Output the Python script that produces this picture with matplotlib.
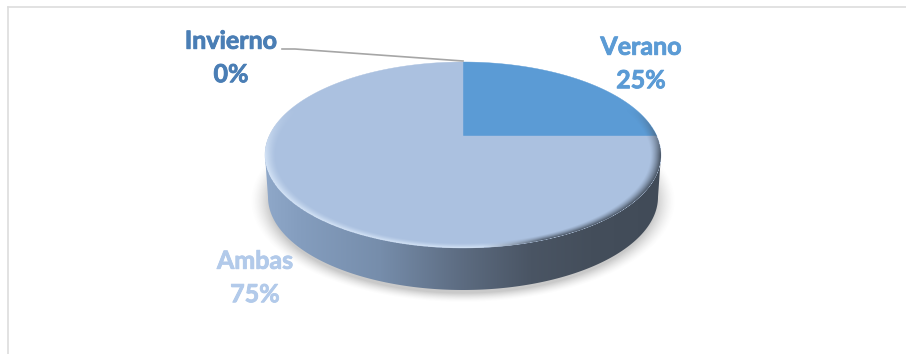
import matplotlib
matplotlib.use('Agg')
import matplotlib.pyplot as plt
import matplotlib.patheffects as pe
import numpy as np
from matplotlib.colors import to_rgb
from matplotlib.patches import Polygon, Ellipse

plt.rcParams['font.family'] = ['Lato', 'DejaVu Sans']

labels = ['Verano', 'Ambas', 'Invierno']
values = [25, 75, 0]
slice_colors = ['#5B9BD5', '#ABC1E0', '#4A7EB5']
label_colors = ['#5B9BD5', '#B2CAEA', '#4A7EB5']
label_pos = [(641, 64), (255, 278), (231, 58)]

# pie geometry in pixels
cx, cy = 463, 155
a, b = 198, 93
apex_y = 136
depth = 42
k = (apex_y - cy) / b


def disc_to_px(u, v):
    # tilted disc, the centre of the disc lands above the centre of the ellipse
    x = cx + a * u * np.sqrt(1 - k ** 2) / (1 + k * v)
    y = cy + b * (v + k) / (1 + k * v)
    return x, y


def wedge_points(start, end):
    t = np.radians(np.linspace(start, end, 200))
    x, y = disc_to_px(np.sin(t), -np.cos(t))
    ax_, ay_ = disc_to_px(0.0, 0.0)
    return np.column_stack([np.r_[ax_, x], np.r_[ay_, y]])


fig = plt.figure(figsize=(9.06, 3.54), dpi=100)
ax = fig.add_axes([0, 0, 1, 1])
ax.set_xlim(0, 906)
ax.set_ylim(354, 0)
ax.axis('off')

# chart border, only top and left show
ax.plot([7.5, 906], [6.5, 6.5], color='#DDDDDD', lw=1.2, zorder=1)
ax.plot([7.5, 7.5], [6.5, 354], color='#DDDDDD', lw=1.2, zorder=1)

# soft shadow under the disc
xx, yy = np.meshgrid(np.arange(906) + 0.5, np.arange(354) + 0.5)
rs = np.hypot((xx - cx) / (a - 1), (yy - (cy + depth + 4)) / (b + 1))
sh = np.clip((1.08 - rs) / 0.10, 0, 1) ** 1.5 * 0.38
shadow = np.zeros((354, 906, 4))
shadow[..., :3] = 0.45
shadow[..., 3] = sh
ax.imshow(shadow, extent=(0, 906, 354, 0), aspect='auto', zorder=2, interpolation='bilinear')

# side wall, blue on the left and going dark on the right
t = np.radians(np.linspace(0, 180, 200))
top_x = cx + a * np.cos(t)
top_y = cy + b * np.sin(t)
bot_x = cx + (a - 3) * np.cos(t[::-1])
bot_y = cy + depth + b * np.sin(t[::-1])
wall = Polygon(np.column_stack([np.r_[top_x, bot_x], np.r_[top_y, bot_y]]),
               closed=True, fc='none', ec='none', zorder=3)
ax.add_patch(wall)
stops_x = np.array([265, 300, 380, 463, 530, 590, 661])
stops_c = np.array([to_rgb(c) for c in
                    ['#8FA8C9', '#849DBE', '#768DAB', '#5C6B80', '#4A5564', '#444E5B', '#414B58']])
px = np.arange(260, 666)
grad = np.stack([np.interp(px, stops_x, stops_c[:, i]) for i in range(3)], axis=-1)[None, ...]
im = ax.imshow(grad, extent=(260, 666, 300, 100), aspect='auto', zorder=3)
im.set_clip_path(wall)

# top face, one wedge per value going clockwise from 12 o'clock
start = 0.0
total = sum(values)
for val, col in zip(values, slice_colors):
    end = start + 360.0 * val / total
    if val > 0:
        ax.add_patch(Polygon(wedge_points(start, end), closed=True, fc=col, ec=col,
                             lw=0.3, zorder=4))
    start = end
ax.set_xlim(0, 906)
ax.set_ylim(354, 0)

# bevel on the rim: pale on the left, dark on the right
r = np.hypot((xx - cx) / a, (yy - cy) / b)
band = np.clip((r - 0.945) / 0.055, 0, 1)
s = (xx - (cx - a)) / (2 * a)
low = np.clip(((yy - cy) / b + 0.5) / 0.5, 0, 1)
rim = np.zeros((354, 906, 4))
light = np.array(to_rgb('#DCEAFA'))
dark = np.array(to_rgb('#414C5A'))
mix = np.clip((s - 0.55) / 0.15, 0, 1)[..., None]
rim[..., :3] = light * (1 - mix) + dark * mix
peak = 0.95 * mix[..., 0] + 0.85 * (1 - mix[..., 0])
rim[..., 3] = band ** 1.4 * low * peak
rim[r > 1.0, 3] = 0
rim_im = ax.imshow(rim, extent=(0, 906, 354, 0), aspect='auto', zorder=5, interpolation='bilinear')
rim_im.set_clip_path(Ellipse((cx, cy), 2 * a, 2 * b, transform=ax.transData))

# leader line for the empty slice
ax.plot([282, 295, 463], [49, 49, 61], color='#A6A6A6', lw=1.2, zorder=6)

for name, val, col, (lx, ly) in zip(labels, values, label_colors, label_pos):
    ax.text(lx, ly, '%s\n%d%%' % (name, val), color=col, fontsize=18, fontweight='bold',
            ha='center', va='center', linespacing=1.55, zorder=7,
            path_effects=[pe.withStroke(linewidth=0.6, foreground=col)])

fig.savefig('out.png', dpi=100)
